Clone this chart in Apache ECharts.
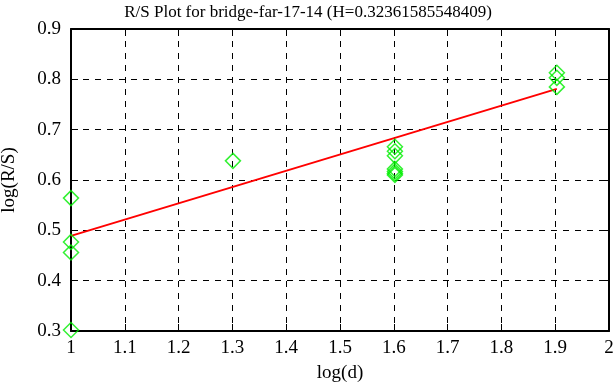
<!DOCTYPE html>
<html>
<head>
<meta charset="utf-8">
<script src="https://cdn.jsdelivr.net/npm/echarts@6/dist/echarts.min.js"></script>
<style>
  html, body { margin: 0; padding: 0; background: #fff; }
  #chart { width: 616px; height: 387px; }
</style>
</head>
<body>
<div id="chart"></div>
<script>
// log(d) for d = 10, 20, 40, 80
var logD = [1, 1.30103, 1.60206, 1.90309];
// log(R/S) samples at each log(d)
var rsAt1 = [0.302, 0.456, 0.477, 0.564];
var rsAt13 = [0.638];
var rsAt16 = [0.666, 0.657, 0.648, 0.622, 0.617, 0.613, 0.610];
var rsAt19 = [0.813, 0.803, 0.785];
// least squares fit end points
var fitX = [1, 1.90309];
var fitY = [0.489, 0.781];

var xTicks = { min: 1, max: 2, interval: 0.1 };
var yTicks = { min: 0.3, max: 0.9, interval: 0.1 };

var points = [];
[rsAt1, rsAt13, rsAt16, rsAt19].forEach(function (list, i) {
    list.forEach(function (v) { points.push([logD[i], v]); });
});

var chart = echarts.init(document.getElementById('chart'));
var serif = 'Liberation Serif';
var axisCommon = {
    type: 'value',
    axisLine: { show: true, onZero: false, lineStyle: { color: '#000', width: 2 } },
    axisTick: { show: true, inside: true, length: 7, lineStyle: { color: '#000', width: 1 } }
};
var option = {
    animation: false,
    backgroundColor: '#fff',
    title: {
        text: 'R/S Plot for bridge-far-17-14 (H=0.32361585548409)',
        left: 'center',
        top: -1,
        textStyle: { fontFamily: serif, fontSize: 17, fontWeight: 'normal', color: '#000' }
    },
    grid: { left: 71, right: 7, top: 29, bottom: 56, outerBoundsMode: 'none', containLabel: false },
    xAxis: [
        Object.assign({}, axisCommon, {
            min: xTicks.min, max: xTicks.max, interval: xTicks.interval,
            name: 'log(d)', nameLocation: 'middle', nameGap: 33,
            nameTextStyle: { fontFamily: serif, fontSize: 19, color: '#000' },
            axisLabel: { fontFamily: serif, fontSize: 19, color: '#000', margin: 8 },
            splitLine: { show: true, lineStyle: { color: '#000', type: [6, 6], width: 1 } }
        }),
        Object.assign({}, axisCommon, {
            position: 'top',
            min: xTicks.min, max: xTicks.max, interval: xTicks.interval,
            axisLabel: { show: false },
            splitLine: { show: false }
        })
    ],
    yAxis: [
        Object.assign({}, axisCommon, {
            min: yTicks.min, max: yTicks.max, interval: yTicks.interval,
            name: 'log(R/S)', nameLocation: 'middle', nameGap: 52, nameRotate: 90,
            nameTextStyle: { fontFamily: serif, fontSize: 19, color: '#000' },
            axisLabel: { fontFamily: serif, fontSize: 19, color: '#000', margin: 10,
                formatter: function (v) { return v.toFixed(1); } },
            splitLine: { show: true, lineStyle: { color: '#000', type: [6, 6], width: 1 } }
        }),
        Object.assign({}, axisCommon, {
            position: 'right',
            min: yTicks.min, max: yTicks.max, interval: yTicks.interval,
            axisLabel: { show: false },
            splitLine: { show: false }
        })
    ],
    series: [
        {
            type: 'scatter',
            data: points,
            symbol: 'diamond',
            symbolSize: [15, 15],
            itemStyle: { color: 'transparent', borderColor: '#00ee00', borderWidth: 1.5 },
            z: 3
        },
        {
            type: 'line',
            data: fitX.map(function (x, i) { return [x, fitY[i]]; }),
            showSymbol: false,
            symbol: 'none',
            lineStyle: { color: '#ff0000', width: 2 },
            z: 2
        }
    ]
};
chart.setOption(option);
</script>
</body>
</html>
